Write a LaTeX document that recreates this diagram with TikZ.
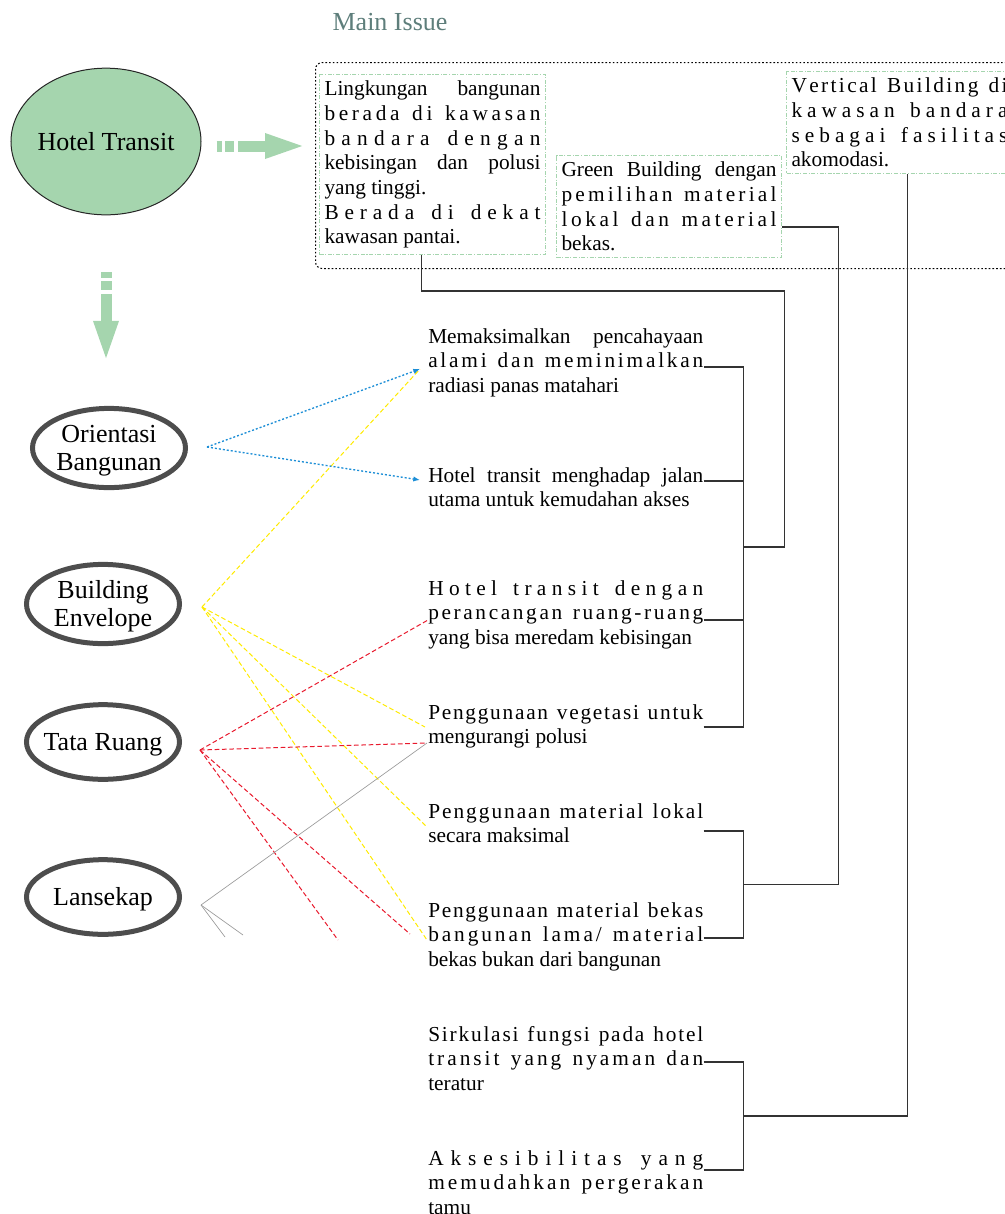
\documentclass[tikz,border=0pt]{standalone}
\usepackage{fontspec}
\setmainfont{Liberation Serif}
\usetikzlibrary{shapes.geometric,arrows.meta,calc}

\definecolor{htgreen}{HTML}{A5D5AE}
\definecolor{issuetext}{HTML}{5E7E7B}
\definecolor{linkblue}{HTML}{1C8ED6}
\definecolor{linkyellow}{HTML}{FFEB00}
\definecolor{linkred}{HTML}{E8192C}
\definecolor{linkgray}{HTML}{9A9A9A}
\definecolor{ringgray}{HTML}{4D4D4D}
\definecolor{bracketgray}{HTML}{333333}

\newcommand{\bigtxt}{\fontsize{19.5}{21}\selectfont}
\newcommand{\bodytxt}{\fontsize{16}{18.5}\selectfont}
\newcommand{\lbl}[1]{\makebox[0pt]{\raisebox{-2.25pt}[\height][\depth]{\begin{tabular}{@{}c@{}}#1\end{tabular}}}}
\setlength{\parindent}{0pt}
\tolerance=10000
\hyphenpenalty=10000
\exhyphenpenalty=10000

% spread a line letter by letter
\ExplSyntaxOn
\tl_new:N \l__ls_tail_tl
\NewDocumentCommand{\ls}{m}
 {
  \seq_set_split:Nnn \l_tmpa_seq { ~ } { #1 }
  \seq_map_indexed_inline:Nn \l_tmpa_seq
   {
    \int_compare:nNnF { ##1 } = { 1 } { \hfil \c_space_tl \hfil }
    \tl_head:n { ##2 }
    \tl_set:Nx \l__ls_tail_tl { \tl_tail:n { ##2 } }
    \tl_map_inline:Nn \l__ls_tail_tl { \hfil ####1 }
   }
 }
\ExplSyntaxOff

\tikzset{
  ring/.style={ellipse,draw=ringgray,line width=3.75pt,minimum width=114.75pt,
    minimum height=56pt,inner sep=0pt,font=\bigtxt},
  issuebox/.style={draw=black,line width=0.8pt,dash pattern=on 1.2pt off 1.6pt,
    rounded corners=5pt},
  issuetxt/.style={anchor=north west,draw=htgreen,line width=0.75pt,
    dash pattern=on 3pt off 1.2pt on 0.8pt off 1.2pt,inner xsep=3.75pt,
    inner ysep=4.8pt,text width=162pt,align=justify,font=\bodytxt},
  itemtxt/.style={anchor=north west,inner sep=0pt,text width=206.25pt,
    align=justify,font=\bodytxt},
  fatarrow/.style={draw=htgreen,line width=8.25pt,
    dash pattern=on 4pt off 2.5pt on 6.5pt off 3.25pt on 60pt,
    -{Triangle[length=31.5pt,width=16.5pt]}},
  link/.style={draw=bracketgray,line width=0.9pt},
  bluelink/.style={draw=linkblue,line width=1pt,dash pattern=on 1.5pt off 1.5pt,
    -{Latex[length=5pt,width=4pt]}},
  yellowlink/.style={draw=linkyellow,line width=0.75pt,dash pattern=on 3.5pt off 2pt},
  redlink/.style={draw=linkred,line width=0.75pt,dash pattern=on 3.5pt off 2pt},
  graylink/.style={draw=linkgray,line width=0.5pt}
}

\begin{document}
\begin{tikzpicture}[x=0.75pt,y=-0.75pt]
  \useasboundingbox (0,0) rectangle (1004,1214);

  % main issue
  \node[font=\bigtxt,text=issuetext] (title) at (390,22) {Main Issue};
  \node[issuebox,anchor=north west,minimum width=540pt,minimum height=154.5pt] (issue) at (315,62) {};
  \node[issuetxt] (lk) at (319,74) {Lingkungan bangunan\linebreak \ls{berada di kawasan}\linebreak \ls{bandara dengan}\linebreak kebisingan dan polusi\linebreak yang tinggi.\par \ls{Berada di dekat}\linebreak kawasan pantai.};
  \node[issuetxt,text width=161.25pt] (gb) at (556,155) {Green Building dengan\linebreak \ls{pemilihan material}\linebreak \ls{lokal dan material}\linebreak bekas.};
  \node[issuetxt] (vb) at (786,71) {\ls{Vertical Building di}\linebreak \ls{kawasan bandara}\linebreak \ls{sebagai fasilitas}\linebreak akomodasi.};

  % hotel transit
  \node[ellipse,fill=htgreen,draw=black!85,line width=0.75pt,minimum width=142.5pt,
    minimum height=110pt,inner sep=0pt,font=\bigtxt] (ht) at (106,141.5) {\lbl{Hotel Transit}};

  % aspek
  \node[ring] (ob) at (109,448) {\lbl{Orientasi\\Bangunan}};
  \node[ring] (be) at (103,604) {\lbl{Building\\Envelope}};
  \node[ring] (tr) at (103,742) {\lbl{Tata Ruang}};
  \node[ring] (ls) at (103,897) {\lbl{Lansekap}};

  \draw[fatarrow] ($(ht.east)+(15,4.5)$) -- ($(ht.east -| issue.west)+(-8,4.5)$);
  \draw[fatarrow] ($(ht.south)+(0,57)$) -- ($(ht.south |- ob.north)+(0,-43)$);

  % kriteria
  \node[itemtxt] (cahaya) at (428,328) {Memaksimalkan pencahayaan\linebreak \ls{alami dan meminimalkan}\linebreak radiasi panas matahari};
  \node[itemtxt] (jalan) at (428,467) {Hotel transit menghadap jalan\linebreak utama untuk kemudahan akses};
  \node[itemtxt] (bising) at (428,580) {\ls{Hotel transit dengan}\linebreak \ls{perancangan ruang-ruang}\linebreak yang bisa meredam kebisingan};
  \node[itemtxt] (vegetasi) at (428,704) {\ls{Penggunaan vegetasi untuk}\linebreak mengurangi polusi};
  \node[itemtxt] (lokal) at (428,803) {\ls{Penggunaan material lokal}\linebreak secara maksimal};
  \node[itemtxt] (bekas) at (428,902) {\ls{Penggunaan material bekas}\linebreak \ls{bangunan lama/ material}\linebreak bekas bukan dari bangunan};
  \node[itemtxt] (sirkulasi) at (428,1026) {\ls{Sirkulasi fungsi pada hotel}\linebreak \ls{transit yang nyaman dan}\linebreak teratur};
  \node[itemtxt] (akses) at (428,1150) {\ls{Aksesibilitas yang}\linebreak \ls{memudahkan pergerakan}\linebreak tamu};

  % ends of the links
  \coordinate (ob-o) at ($(ob.east)+(19,-1)$);
  \coordinate (be-o) at ($(be.east)+(20,3)$);
  \coordinate (tr-o) at ($(tr.east)+(18,8)$);
  \coordinate (ls-o) at ($(ls.east)+(19,8)$);
  \coordinate (cahaya-in) at ($(cahaya.north west)+(-8,41)$);
  \coordinate (jalan-in) at ($(jalan.north west)+(-8,13)$);
  \coordinate (bising-in) at ($(bising.north west)+(0,40)$);
  \coordinate (vegetasi-in) at ($(vegetasi.north west)+(-3,23)$);
  \coordinate (vegetasi-in2) at ($(vegetasi.north west)+(-1,39)$);
  \coordinate (lokal-in) at ($(lokal.north west)+(-1,24)$);
  \coordinate (bekas-in) at ($(bekas.north west)+(-1,38)$);
  \coordinate (red-a) at (338,940);
  \coordinate (red-b) at (410,934);
  \coordinate (gray-a) at (225,937);
  \coordinate (gray-b) at (243,935);

  \draw[yellowlink] (be-o) -- (cahaya-in);
  \draw[yellowlink] (be-o) -- (vegetasi-in);
  \draw[yellowlink] (be-o) -- (lokal-in);
  \draw[yellowlink] (be-o) -- (bekas-in);
  \draw[redlink] (tr-o) -- (bising-in);
  \draw[redlink] (tr-o) -- (vegetasi-in2);
  \draw[redlink] (tr-o) -- (red-a);
  \draw[redlink] (tr-o) -- (red-b);
  \draw[graylink] (ls-o) -- (vegetasi-in2);
  \draw[graylink] (ls-o) -- (gray-a);
  \draw[graylink] (ls-o) -- (gray-b);
  \draw[bluelink] (ob-o) -- (cahaya-in);
  \draw[bluelink] (ob-o) -- (jalan-in);

  % brackets
  \draw[link] ($(cahaya.north east)+(0,39)$) -- ++(40,0) coordinate (a1);
  \draw[link] ($(jalan.north east)+(0,14)$) -- ++(40,0);
  \draw[link] ($(bising.north east)+(0,40)$) -- ++(40,0);
  \draw[link] ($(vegetasi.north east)+(0,23)$) -- ++(40,0) coordinate (a4);
  \draw[link] (a1) -- (a4);
  \draw[link] ($(a1)!0.5!(a4)$) -- ++(41,0) -- ++(0,-256) -| ($(lk.south)+(-11,0)$);

  \draw[link] ($(lokal.north east)+(0,28)$) -- ++(40,0) coordinate (b1);
  \draw[link] ($(bekas.north east)+(0,36)$) -- ++(40,0) coordinate (b2);
  \draw[link] (b1) -- (b2);
  \draw[link] ($(b1)!0.5!(b2)$) -- ++(95,0) |- ($(gb.north east)+(0,72)$);

  \draw[link] ($(sirkulasi.north east)+(0,36)$) -- ++(40,0) coordinate (c1);
  \draw[link] ($(akses.north east)+(0,20)$) -- ++(40,0) coordinate (c2);
  \draw[link] (c1) -- (c2);
  \draw[link] ($(c1)!0.5!(c2)$) -| ($(vb.south)+(8,0)$);
\end{tikzpicture}
\end{document}
